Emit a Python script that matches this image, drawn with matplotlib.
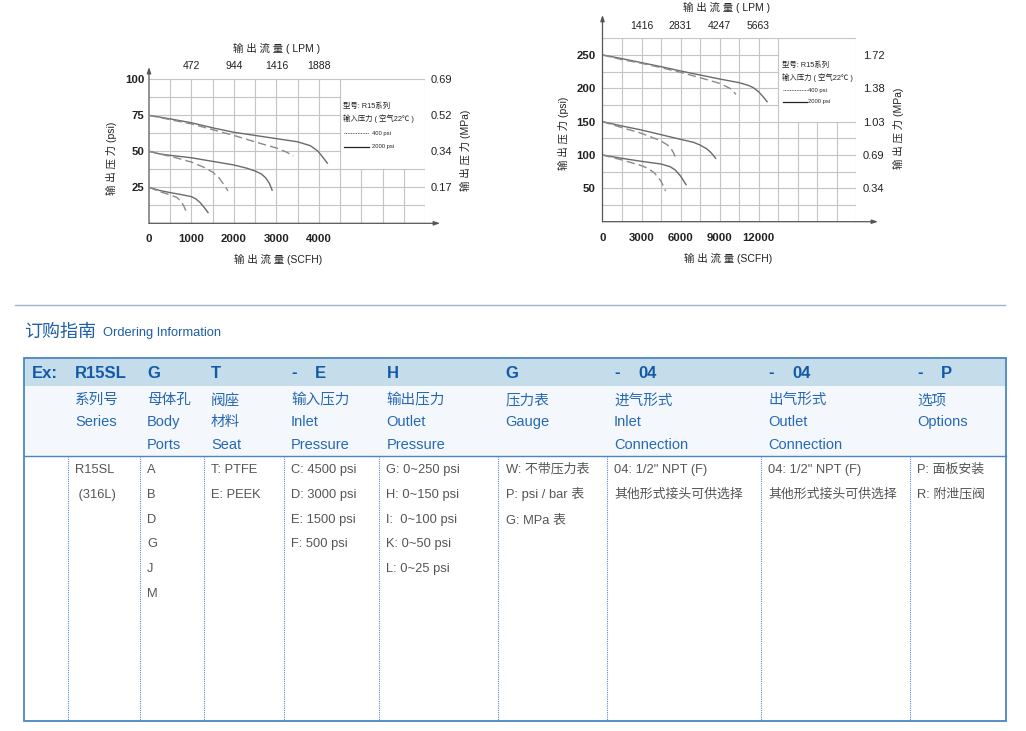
import matplotlib
matplotlib.use("Agg")
import matplotlib.pyplot as plt
import numpy as np
from matplotlib.patches import Rectangle

plt.rcParams['font.family'] = ['Liberation Sans', 'Noto Sans CJK SC', 'DejaVu Sans']

# ---------------- data : left chart (outlet pressure vs flow) ----------------
L_X_TICKS = [0, 1000, 2000, 3000, 4000]
L_X_LABELS = ["0", "1000", "2000", "3000", "4000"]
L_TOP_TICKS = [1000, 2000, 3000, 4000]
L_TOP_LABELS = ["472", "944", "1416", "1888"]
L_Y_TICKS = [25, 50, 75, 100]
L_Y_LABELS = ["25", "50", "75", "100"]
L_R_LABELS = ["0.17", "0.34", "0.52", "0.69"]

L75_SOLID_X = [0, 500, 1000, 1500, 2000, 2500, 3000, 3500, 3800, 3975, 4080, 4200]
L75_SOLID_Y = [75, 72.5, 69.8, 66.3, 63.2, 61, 58.8, 56.6, 53.9, 50.2, 46.4, 41.8]
L75_DASH_X = [0, 500, 1000, 1500, 2000, 2500, 3000, 3250, 3400]
L75_DASH_Y = [75, 72, 69, 65, 61, 56.5, 52.3, 49.3, 46.6]
L50_SOLID_X = [0, 250, 500, 1000, 1500, 2000, 2300, 2500, 2650, 2750, 2830, 2900]
L50_SOLID_Y = [50, 48.2, 47.2, 45.5, 43, 40.5, 38.3, 36.3, 34.2, 31.5, 28, 23]
L50_DASH_X = [0, 300, 600, 1000, 1300, 1500, 1650, 1760, 1860]
L50_DASH_Y = [50, 47.8, 45.8, 42.5, 38.8, 35.5, 31.5, 27, 22.5]
L25_SOLID_X = [0, 250, 500, 750, 1000, 1100, 1200, 1300, 1390]
L25_SOLID_Y = [25, 22.8, 21.3, 20, 18.5, 17, 14.5, 11, 7.5]
L25_DASH_X = [0, 250, 500, 650, 750, 820, 870]
L25_DASH_Y = [25, 22, 19.8, 18, 15.5, 12, 8.5]

# ---------------- data : right chart ----------------
R_X_TICKS = [0, 3000, 6000, 9000, 12000]
R_X_LABELS = ["0", "3000", "6000", "9000", "12000"]
R_TOP_TICKS = [3000, 6000, 9000, 12000]
R_TOP_LABELS = ["1416", "2831", "4247", "5663"]
R_Y_TICKS = [50, 100, 150, 200, 250]
R_Y_LABELS = ["50", "100", "150", "200", "250"]
R_R_LABELS = ["0.34", "0.69", "1.03", "1.38", "1.72"]

R250_SOLID_X = [0, 1500, 3000, 4500, 6000, 7500, 9000, 10500, 11200, 11600, 12000, 12350, 12660]
R250_SOLID_Y = [250, 244.5, 238.5, 232.5, 226, 220, 214, 208.5, 204.5, 201, 195, 187.5, 180]
R250_DASH_X = [0, 1500, 3000, 4500, 6000, 7500, 9000, 9800, 10270]
R250_DASH_Y = [250, 243, 237.5, 231, 224, 216, 207.5, 200, 191]
R150_SOLID_X = [0, 1500, 3000, 4500, 6000, 7000, 7500, 8000, 8300, 8500, 8700]
R150_SOLID_Y = [150, 143.5, 137.5, 130.5, 123.5, 119, 115, 109.5, 104.5, 100, 95]
R150_DASH_X = [0, 1500, 3000, 4000, 4500, 5000, 5300, 5500, 5620]
R150_DASH_Y = [150, 141, 132.5, 125, 121, 115, 109, 102, 95]
R100_SOLID_X = [0, 1500, 3000, 4500, 5200, 5600, 6000, 6200, 6430]
R100_SOLID_Y = [100, 95, 90.5, 86.5, 82.5, 77.5, 68.5, 62.5, 55.5]
R100_DASH_X = [0, 1500, 3000, 3500, 4000, 4500, 4850]
R100_DASH_Y = [100, 92.6, 84, 80, 73, 61, 46]

LEGEND_LINES = ["型号: R15系列", "输入压力 ( 空气22℃ )"]
LEGEND_400 = "400 psi"
LEGEND_2000 = "2000 psi"

# ---------------- data : ordering table ----------------
HEADER_CODES = ["Ex:", "R15SL", "G", "T", "- E", "H", "G", "- 04", "- 04", "- P"]
SUB_HEADERS = [
    [],
    ["系列号", "Series"],
    ["母体孔", "Body", "Ports"],
    ["阀座", "材料", "Seat"],
    ["输入压力", "Inlet", "Pressure"],
    ["输出压力", "Outlet", "Pressure"],
    ["压力表", "Gauge"],
    ["进气形式", "Inlet", "Connection"],
    ["出气形式", "Outlet", "Connection"],
    ["选项", "Options"],
]
BODY = [
    [],
    ["R15SL", " (316L)"],
    ["A", "B", "D", "G", "J", "M"],
    ["T: PTFE", "E: PEEK"],
    ["C: 4500 psi", "D: 3000 psi", "E: 1500 psi", "F: 500 psi"],
    ["G: 0~250 psi", "H: 0~150 psi", "I:  0~100 psi", "K: 0~50 psi", "L: 0~25 psi"],
    ["W: 不带压力表", "P: psi / bar 表", "G: MPa 表"],
    ['04: 1/2" NPT (F)', "其他形式接头可供选择"],
    ['04: 1/2" NPT (F)', "其他形式接头可供选择"],
    ["P: 面板安装", "R: 附泄压阀"],
]

# ---------------- figure ----------------
W, H = 1026, 731
fig = plt.figure(figsize=(W / 100, H / 100), dpi=100)
fig.patch.set_facecolor('white')

ax0 = fig.add_axes([0, 0, 1, 1], zorder=0)
ax0.set_xlim(0, W)
ax0.set_ylim(H, 0)
ax0.axis('off')
ax0.patch.set_alpha(0)


def px_axes(x0, y0, x1, y1):
    return fig.add_axes([x0 / W, 1 - y1 / H, (x1 - x0) / W, (y1 - y0) / H], zorder=2)


GRID_C = '#c4c4c4'
AXIS_C = '#555555'
TXT_C = '#222222'


def draw_chart(ax, xmax, ymax, xstep, ystep, boxx, boxy, arrow_x, arrow_y,
               xt, xl, tt, tl, yt, yl, rl, pads, curves, leg):
    ax.set_xlim(0, xmax)
    ax.set_ylim(0, ymax)
    ax.patch.set_alpha(0)
    for s in ax.spines.values():
        s.set_visible(False)
    # grid
    for x in np.arange(xstep, xmax + 1, xstep):
        top = ymax if (x <= boxx or x >= xmax) else boxy
        ax.plot([x, x], [0, top], color=GRID_C, lw=0.8, zorder=1)
    for y in np.arange(ystep, ymax + 1, ystep):
        right = xmax if (y <= boxy or y >= ymax) else boxx
        ax.plot([0, right], [y, y], color=GRID_C, lw=0.8, zorder=1)
    # axes with arrows
    ap = dict(arrowstyle='-|>,head_length=0.35,head_width=0.12', color=AXIS_C,
              lw=0.9, shrinkA=0, shrinkB=0)
    ax.annotate('', xy=(0, arrow_y), xytext=(0, 0), arrowprops=ap, annotation_clip=False)
    ax.annotate('', xy=(arrow_x, 0), xytext=(0, 0), arrowprops=ap, annotation_clip=False)
    # ticks
    ax.set_xticks(xt, xl, fontsize=8.2, fontweight='bold', color=TXT_C)
    ax.set_yticks(yt, yl, fontsize=8.2, fontweight='bold', color=TXT_C)
    ax.tick_params(axis='x', length=0, pad=pads[0])
    ax.tick_params(axis='y', length=0, pad=pads[1])
    sx = ax.secondary_xaxis('top')
    sx.set_xticks(tt, tl, fontsize=7.5, color=TXT_C)
    sx.tick_params(length=0, pad=pads[2])
    for s in sx.spines.values():
        s.set_visible(False)
    sy = ax.secondary_yaxis('right')
    sy.set_yticks(yt, rl, fontsize=8, color=TXT_C)
    sy.tick_params(length=0, pad=pads[3])
    for s in sy.spines.values():
        s.set_visible(False)
    # curves
    for (xs, ys, dashed) in curves:
        if dashed:
            ax.plot(xs, ys, color='#8a8a8a', lw=1.0, dashes=(6, 3), zorder=3)
        else:
            ax.plot(xs, ys, color='#6a6a6a', lw=1.0, zorder=3)
    # legend text inside the white box
    lx, l0, l1, lt, rows = leg
    tr = ax.transAxes
    ax.text(lx, rows[0], LEGEND_LINES[0], transform=tr, fontsize=5.3, va='center', color=TXT_C)
    ax.text(lx, rows[1], LEGEND_LINES[1], transform=tr, fontsize=5.3, va='center', color=TXT_C)
    ax.plot([l0, l1], [rows[2], rows[2]], transform=tr, color='#333333', lw=0.6,
            linestyle=(0, (1, 1)), clip_on=False)
    ax.text(lt, rows[2], LEGEND_400, transform=tr, fontsize=4.2, va='center', color=TXT_C)
    ax.plot([l0, l1], [rows[3], rows[3]], transform=tr, color='#222222', lw=0.9, clip_on=False)
    ax.text(lt, rows[3], LEGEND_2000, transform=tr, fontsize=4.2, va='center', color=TXT_C)


# left chart
ax1 = px_axes(149, 79.3, 425, 223.3)
draw_chart(ax1, 6500, 100, 500, 12.5, 4500, 37.5, 6853, 108.5,
           L_X_TICKS, L_X_LABELS, L_TOP_TICKS, L_TOP_LABELS, L_Y_TICKS, L_Y_LABELS, L_R_LABELS,
           (7.5, 3.5, 6.0, 4.3),
           [(L75_SOLID_X, L75_SOLID_Y, False), (L75_DASH_X, L75_DASH_Y, True),
            (L50_SOLID_X, L50_SOLID_Y, False), (L50_DASH_X, L50_DASH_Y, True),
            (L25_SOLID_X, L25_SOLID_Y, False), (L25_DASH_X, L25_DASH_Y, True)],
           (0.703, 0.7065, 0.797, 0.808, [0.8146, 0.7236, 0.627, 0.53]))

# right chart
ax2 = px_axes(602.5, 38.3, 856, 221.7)
draw_chart(ax2, 19500, 275, 1500, 25, 13500, 150, 21192, 310,
           R_X_TICKS, R_X_LABELS, R_TOP_TICKS, R_TOP_LABELS, R_Y_TICKS, R_Y_LABELS, R_R_LABELS,
           (8.0, 5.0, 5.0, 5.0),
           [(R250_SOLID_X, R250_SOLID_Y, False), (R250_DASH_X, R250_DASH_Y, True),
            (R150_SOLID_X, R150_SOLID_Y, False), (R150_DASH_X, R150_DASH_Y, True),
            (R100_SOLID_X, R100_SOLID_Y, False), (R100_DASH_X, R100_DASH_Y, True)],
           (0.708, 0.712, 0.807, 0.812, [0.8544, 0.787, 0.718, 0.654]))

# chart titles / axis labels (absolute pixel positions)
LBL = dict(fontsize=7.5, color=TXT_C, ha='center', va='center')
ax0.text(277, 48, "输 出 流 量 ( LPM )", **LBL)
ax0.text(278, 259, "输 出 流 量 (SCFH)", **LBL)
ax0.text(111.5, 158, "输 出 压 力 (psi)", rotation=90, **LBL)
ax0.text(465, 150, "输 出 压 力 (MPa)", rotation=90, **LBL)
ax0.text(727, 7, "输 出 流 量 ( LPM )", **LBL)
ax0.text(728, 258, "输 出 流 量 (SCFH)", **LBL)
ax0.text(563, 133, "输 出 压 力 (psi)", rotation=90, **LBL)
ax0.text(898, 128, "输 出 压 力 (MPa)", rotation=90, **LBL)

# ---------------- ordering table ----------------
BLUE_T = '#1f5ea8'
BLUE_H = '#135aa6'
BLUE_S = '#2668b4'
BODY_C = '#555555'
BORDER = '#4b86c2'

ax0.plot([15, 1005], [305, 305], color='#9fb4cc', lw=1.0)
ax0.text(24, 337, "订购指南", fontsize=13, color=BLUE_T, va='baseline')
ax0.text(103, 336, "Ordering Information", fontsize=9.3, color=BLUE_T, va='baseline')

TL, TR, TT, TB = 24, 1006, 358, 720.5
HB, SB = 386, 455.5
ax0.add_patch(Rectangle((TL, TT), TR - TL, HB - TT, facecolor='#c5dcea', edgecolor='none'))
ax0.add_patch(Rectangle((TL, HB), TR - TL, SB - HB, facecolor='#f4f8fc', edgecolor='none'))
ax0.add_patch(Rectangle((TL, TT), TR - TL, TB - TT, facecolor='none', edgecolor=BORDER, lw=1.3))
ax0.plot([TL, TR], [SB, SB], color=BORDER, lw=1.0)

COL_SEP = [67.5, 139.5, 203.5, 283.5, 379, 498, 606.5, 760.5, 909.5]
for xs in COL_SEP:
    ax0.plot([xs, xs], [SB, TB], color='#5a8ac2', lw=0.8, linestyle=(0, (1, 1)))

COL_X = [31.5] + [x + 7.5 for x in COL_SEP]

HY = 371.5 + 6.0
for i, code in enumerate(HEADER_CODES):
    parts = code.split(' ')
    if len(parts) == 2:
        ax0.text(COL_X[i], HY, parts[0], fontsize=12, fontweight='bold', color=BLUE_H, va='baseline')
        ax0.text(COL_X[i] + 24, HY, parts[1], fontsize=12, fontweight='bold', color=BLUE_H, va='baseline')
    else:
        ax0.text(COL_X[i], HY, code, fontsize=12, fontweight='bold', color=BLUE_H, va='baseline')

SUB_Y = [399 + 5.3, 421 + 5.3, 443.3 + 5.3]
for i, lines in enumerate(SUB_HEADERS):
    for j, t in enumerate(lines):
        ax0.text(COL_X[i], SUB_Y[j], t, fontsize=10.5, color=BLUE_S, va='baseline')

for i, lines in enumerate(BODY):
    for j, t in enumerate(lines):
        ax0.text(COL_X[i], 468.3 + 4.7 + 24.8 * j, t, fontsize=9.3, color=BODY_C, va='baseline')

fig.savefig("out.png", dpi=100, facecolor='white')
